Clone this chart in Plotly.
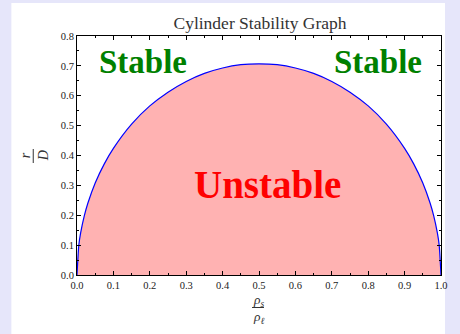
import plotly.graph_objects as go

# density ratio rho_s / rho_l
rho = [0.0, 0.005, 0.01, 0.02, 0.03, 0.05, 0.075, 0.1, 0.15, 0.2, 0.25, 0.3, 0.35, 0.4, 0.45, 0.5,
       0.55, 0.6, 0.65, 0.7, 0.75, 0.8, 0.85, 0.9, 0.925, 0.95, 0.97, 0.98, 0.99, 0.995, 1.0]
# critical r / D
r_over_d = [0.0, 0.10, 0.141, 0.198, 0.241, 0.308, 0.372, 0.424, 0.505, 0.566, 0.612, 0.648, 0.675, 0.693, 0.704, 0.707,
            0.704, 0.693, 0.675, 0.648, 0.612, 0.566, 0.505, 0.424, 0.372, 0.308, 0.241, 0.198, 0.141, 0.10, 0.0]

x_ticks = [0.0, 0.1, 0.2, 0.3, 0.4, 0.5, 0.6, 0.7, 0.8, 0.9, 1.0]
y_ticks = [0.0, 0.1, 0.2, 0.3, 0.4, 0.5, 0.6, 0.7, 0.8]

SERIF = "Liberation Serif, Times New Roman, serif"

fig = go.Figure()
fig.add_trace(go.Scatter(
    x=rho, y=r_over_d, mode="lines", line=dict(color="#0000ff", width=1.2, shape="spline", smoothing=0.6),
    fill="tozeroy", fillcolor="rgba(255,0,0,0.3)", hoverinfo="skip", showlegend=False,
))

L, R, T, B = 77, 17, 36, 59
W, H = 460, 334
pw, ph = W - L - R, H - T - B

def px(xp):
    return (xp - L) / pw

def py(yp):
    return (H - B - yp) / ph

axis_common = dict(
    showline=True, linecolor="black", linewidth=1, mirror="ticks",
    ticks="inside", ticklen=4, tickcolor="black", tickwidth=1,
    showgrid=False, zeroline=False, tickformat=".1f",
    tickfont=dict(family=SERIF, size=10.5, color="#222222"),
    minor=dict(ticks="inside", ticklen=2, tickcolor="black", dtick=0.05),
)

fig.update_layout(
    width=W, height=H,
    margin=dict(l=L, r=R, t=T, b=B),
    paper_bgcolor="#e6e6fa",
    plot_bgcolor="white",
    title=dict(text="Cylinder Stability Graph", xref="container", x=260 / W, xanchor="center",
               yref="container", y=1 - 23 / H, yanchor="middle",
               font=dict(family=SERIF, size=17.5, color="#333333")),
    xaxis=dict(range=[0, 1], tickvals=x_ticks, **axis_common),
    yaxis=dict(range=[0, 0.8], tickvals=y_ticks, **axis_common),
    shapes=[
        dict(type="rect", xref="paper", yref="paper", x0=px(11), x1=px(447), y0=py(3), y1=py(340),
             fillcolor="white", line=dict(width=0), layer="below"),
        dict(type="line", xref="paper", yref="paper", x0=px(253), x1=px(265), y0=py(307.5), y1=py(307.5),
             line=dict(color="#333333", width=1)),
        dict(type="line", xref="paper", yref="paper", x0=px(33), x1=px(33), y0=py(149), y1=py(163),
             line=dict(color="#333333", width=1)),
    ],
)

ann = [
    dict(text="<b>Stable</b>", x=px(143), y=py(62), size=33, color="#008000"),
    dict(text="<b>Stable</b>", x=px(380), y=py(62), size=33, color="#008000"),
    dict(text="<b>Unstable</b>", x=px(269), y=py(184), size=39, color="#ff0000"),
]
for a in ann:
    fig.add_annotation(text=a["text"], x=a["x"], y=a["y"], xref="paper", yref="paper", showarrow=False,
                       xanchor="center", yanchor="middle",
                       font=dict(family=SERIF, size=a["size"], color=a["color"]))

fig.add_annotation(text="<i>ρ<sub>s</sub></i>", x=px(259), y=py(300), xref="paper", yref="paper", showarrow=False,
                   xanchor="center", yanchor="middle", font=dict(family=SERIF, size=13.5, color="#333333"))
fig.add_annotation(text="<i>ρ<sub>ℓ</sub></i>", x=px(259), y=py(317), xref="paper", yref="paper", showarrow=False,
                   xanchor="center", yanchor="middle", font=dict(family=SERIF, size=13.5, color="#333333"))
fig.add_annotation(text="<i>r</i>", x=px(25), y=py(155), xref="paper", yref="paper", showarrow=False, textangle=-90,
                   xanchor="center", yanchor="middle", font=dict(family=SERIF, size=14, color="#333333"))
fig.add_annotation(text="<i>D</i>", x=px(43), y=py(156), xref="paper", yref="paper", showarrow=False, textangle=-90,
                   xanchor="center", yanchor="middle", font=dict(family=SERIF, size=14, color="#333333"))

fig.write_html("out.html", config={"displayModeBar": False},
               post_script="document.body.style.margin='0';document.body.style.overflow='hidden';")
